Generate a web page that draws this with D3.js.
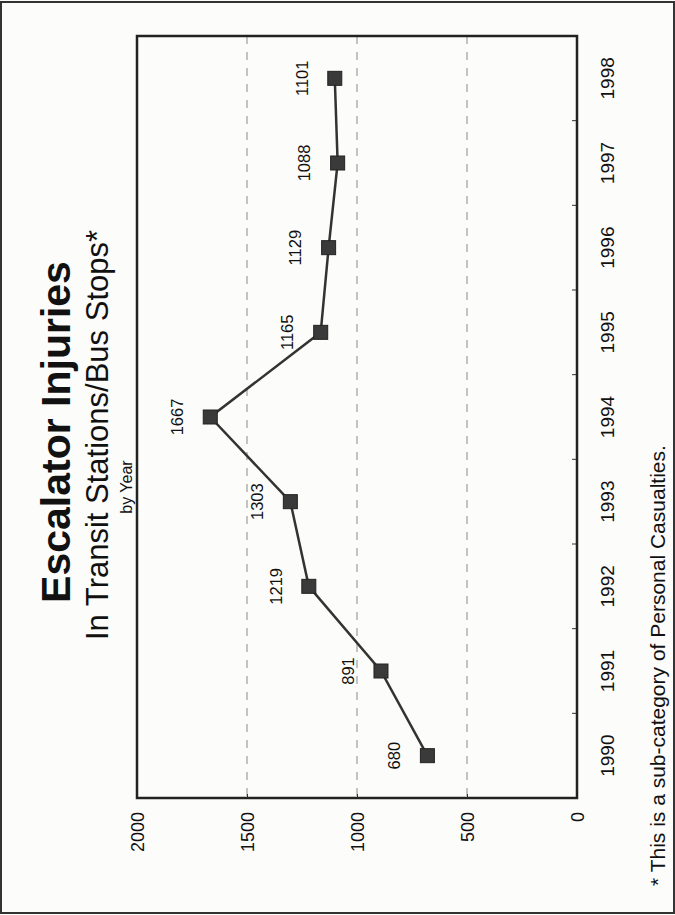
<!DOCTYPE html>
<html>
<head>
<meta charset="utf-8">
<script src="https://cdn.jsdelivr.net/npm/d3@7/dist/d3.min.js"></script>
<style>
  html, body { margin: 0; padding: 0; background: #fcfcfa; }
  svg { display: block; }
  text { font-family: "Liberation Sans", Arial, Helvetica, sans-serif; fill: #111; }
</style>
</head>
<body>
<svg id="chart" width="675" height="915"></svg>
<script>
// ---- data ----
const years = ["1990", "1991", "1992", "1993", "1994", "1995", "1996", "1997", "1998"];
const injuries = [680, 891, 1219, 1303, 1667, 1165, 1129, 1088, 1101];
const valueTicks = [0, 500, 1000, 1500, 2000];
const gridValues = [500, 1000, 1500];
const titleText = "Escalator Injuries";
const subtitleText = "In Transit Stations/Bus Stops*";
const byText = "by Year";
const footnoteText = "* This is a sub-category of Personal Casualties.";

const svg = d3.select("#chart");
const W = 675, H = 915;

// outer frame
svg.append("rect").attr("x", 1).attr("y", 2).attr("width", W - 2).attr("height", H - 4)
  .attr("fill", "#fcfcfa").attr("stroke", "#333").attr("stroke-width", 2);

// plot area (chart drawn rotated: values run right-to-left, years bottom-to-top)
const box = { left: 137, right: 577, top: 36, bottom: 798 };

const x = d3.scaleLinear().domain([0, 2000]).range([box.right, box.left]);
const y = d3.scaleBand().domain(years).range([box.bottom, box.top]).padding(0);
const yc = d => y(d) + y.bandwidth() / 2;

// gridlines
svg.append("g").selectAll("line").data(gridValues).join("line")
  .attr("x1", d => x(d)).attr("x2", d => x(d))
  .attr("y1", box.top).attr("y2", box.bottom)
  .attr("stroke", "#8a8a8a").attr("stroke-width", 1)
  .attr("stroke-dasharray", "8,8");

// value axis (along bottom edge, labels rotated)
const xAxis = d3.axisBottom(x).tickValues(valueTicks).tickSize(-4).tickPadding(0).tickFormat(d3.format("d"));
const gx = svg.append("g").attr("transform", `translate(0,${box.bottom})`).call(xAxis);
gx.select(".domain").remove();
gx.selectAll(".tick line").attr("stroke", "#333");
gx.selectAll(".tick text")
  .attr("transform", "translate(0,14) rotate(-90)")
  .attr("text-anchor", "end").attr("x", 0).attr("y", 0).attr("dy", "0.35em")
  .style("font-size", "18px").style("fill", "#111");

// category axis (along right edge, ticks at band boundaries)
const yAxis = d3.axisRight(y).tickSize(0).tickPadding(0);
const gy = svg.append("g").attr("transform", `translate(${box.right},0)`).call(yAxis);
gy.select(".domain").remove();
gy.selectAll(".tick text")
  .attr("transform", "translate(30,0) rotate(-90)")
  .attr("text-anchor", "middle").attr("x", 0).attr("y", 0).attr("dy", "0.35em")
  .style("font-size", "19px").style("fill", "#111");
svg.append("g").selectAll("line").data(years.slice(1)).join("line")
  .attr("x1", box.right).attr("x2", box.right - 5)
  .attr("y1", d => y(d) + y.bandwidth()).attr("y2", d => y(d) + y.bandwidth())
  .attr("stroke", "#333").attr("stroke-width", 1);

// plot frame
svg.append("rect").attr("x", box.left).attr("y", box.top)
  .attr("width", box.right - box.left).attr("height", box.bottom - box.top)
  .attr("fill", "none").attr("stroke", "#222").attr("stroke-width", 2.5);

// line
const pts = years.map((yr, i) => ({ yr, v: injuries[i] }));
svg.append("path").datum(pts)
  .attr("d", d3.line().x(d => x(d.v)).y(d => yc(d.yr)))
  .attr("fill", "none").attr("stroke", "#333").attr("stroke-width", 2.5);

// markers
const ms = 14;
svg.append("g").selectAll("rect").data(pts).join("rect")
  .attr("x", d => x(d.v) - ms / 2).attr("y", d => yc(d.yr) - ms / 2)
  .attr("width", ms).attr("height", ms)
  .attr("fill", "#3a3a3a").attr("stroke", "#222").attr("stroke-width", 1);

// data labels
svg.append("g").selectAll("text").data(pts).join("text")
  .attr("transform", d => `translate(${x(d.v) - 33},${yc(d.yr)}) rotate(-90)`)
  .attr("text-anchor", "middle").attr("dy", "0.35em")
  .style("font-size", "16.5px")
  .text(d => d.v);

// titles (rotated)
const cy = 432;
svg.append("text").attr("transform", `translate(70,${cy}) rotate(-90)`)
  .attr("text-anchor", "middle").style("font-size", "41px").style("font-weight", "bold")
  .text(titleText);
svg.append("text").attr("transform", `translate(108,${cy + 3}) rotate(-90)`)
  .attr("text-anchor", "middle").style("font-size", "31px")
  .text(subtitleText);
svg.append("text").attr("transform", `translate(132,${cy + 55}) rotate(-90)`)
  .attr("text-anchor", "middle").style("font-size", "16px")
  .text(byText);

// footnote
svg.append("text").attr("transform", `translate(665,886) rotate(-90)`)
  .attr("text-anchor", "start").style("font-size", "21px")
  .text(footnoteText);
</script>
</body>
</html>
